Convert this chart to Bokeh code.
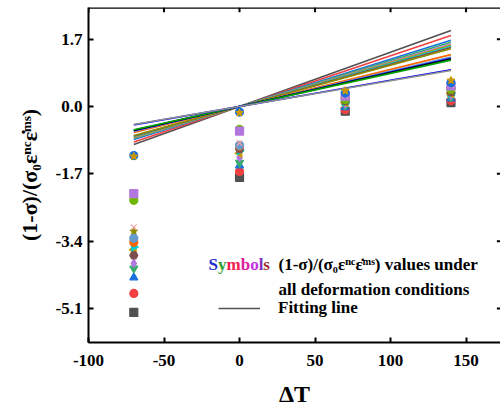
import numpy as np
from bokeh.plotting import figure
from bokeh.models import (ColumnDataSource, FixedTicker, Range1d, Label, Span,
                          PrintfTickFormatter, Legend, LegendItem)
from bokeh.embed import file_html
from bokeh.resources import INLINE

# Temperature differences at which the ratio was evaluated
delta_t = [-70, 0, 70, 140]

# (1-σ)/(σ0 ε^nc ε̇^ms) for every deformation condition, one row per condition
ratio_values = [
    [-5.20, -1.79, -0.12, 0.10],
    [-4.72, -1.64, -0.08, 0.15],
    [-4.32, -1.49, -0.02, 0.20],
    [-4.09, -1.42, 0.02, 0.24],
    [-3.96, -1.29, 0.06, 0.28],
    [-3.62, -1.18, 0.10, 0.32],
    [-3.55, -1.12, 0.12, 0.34],
    [-3.76, -1.08, 0.14, 0.36],
    [-3.15, -1.02, 0.16, 0.40],
    [-3.43, -1.00, 0.20, 0.45],
    [-3.33, -0.98, 0.22, 0.48],
    [-2.37, -0.58, 0.18, 0.44],
    [-2.20, -0.62, 0.26, 0.52],
    [-3.05, -0.92, 0.28, 0.55],
    [-1.24, -0.14, 0.34, 0.60],
    [-1.26, -0.16, 0.40, 0.66],
]

# Slopes of the linear fits through the origin (one per condition)
fit_slopes = [0.01371, 0.01279, 0.01193, 0.01157, 0.01129, 0.01107, 0.01086, 0.01064,
              0.01043, 0.00936, 0.00893, 0.00871, 0.00857, 0.00836, 0.00664, 0.00650]
fit_range = [-70, 140]

marker_colors = ["#515151", "#F14040", "#1A6FDF", "#37AD6B", "#B177DE", "#CC9900",
                 "#00CBCC", "#7D4E4E", "#8E8E00", "#FB6501", "#6699CC", "#6FB802",
                 "#B177DE", "#F7A0A0", "#1A6FDF", "#CC9900"]
marker_types = ["square", "circle", "triangle", "inverted_triangle", "diamond", "triangle",
                "triangle", "hex", "star", "circle", "circle", "circle",
                "square", "x", "circle", "star"]
marker_angles = [0, 0, 0, 0, 0, np.pi / 2, -np.pi / 2, 0, 0, 0, 0, 0, 0, 0, 0, 0]
line_colors = ["#515151", "#F14040", "#1A6FDF", "#37AD6B", "#B177DE", "#CC9900",
               "#00CBCC", "#7D4E4E", "#8E8E00", "#FB6501", "#6699CC", "#0000FF",
               "#000000", "#00A000", "#0000FF", "#909090"]

x_ticks = [-100, -50, 0, 50, 100, 150]
y_ticks = [-5.1, -3.4, -1.7, 0.0, 1.7]
X_END, Y_END = 172.8, 2.5

FONT = "Liberation Serif"

p = figure(width=500, height=414, output_backend="svg", toolbar_location=None,
           x_range=Range1d(-100, X_END), y_range=Range1d(-5.96, Y_END),
           min_border_left=88, min_border_bottom=72, min_border_top=7, min_border_right=0)
p.outline_line_color = None
p.xgrid.visible = False
p.ygrid.visible = False
p.background_fill_color = "white"
p.border_fill_color = "white"

p.axis.axis_line_width = 2
p.axis.major_tick_line_width = 2
p.axis.major_tick_in = 5
p.axis.major_tick_out = 0
p.axis.minor_tick_line_color = None
p.axis.major_label_text_font = FONT
p.axis.major_label_text_font_style = "bold"
p.axis.major_label_text_font_size = "17px"
p.axis.major_label_text_color = "black"
p.axis.axis_label_text_font = FONT
p.axis.axis_label_text_font_style = "bold"
p.axis.axis_label_text_color = "black"

p.xaxis.ticker = FixedTicker(ticks=x_ticks)
p.xaxis.formatter = PrintfTickFormatter(format="%d")
p.yaxis.ticker = FixedTicker(ticks=y_ticks)
p.yaxis.formatter = PrintfTickFormatter(format="%.1f")
p.xaxis.axis_label = "ΔT"
p.xaxis.axis_label_text_font_size = "24px"
p.xaxis.major_label_standoff = 12
p.xaxis.axis_label_standoff = 12
p.yaxis.axis_label = "(1-σ)/(σ₀εⁿᶜε̇ᵐˢ)"
p.yaxis.axis_label_text_font_size = "22px"
p.yaxis.major_label_standoff = 6
p.yaxis.axis_label_standoff = 11

# top edge of the frame and mirrored tick marks on top and right
p.add_layout(Span(location=Y_END, dimension="width", line_color="black", line_width=2.5))
p.segment(x0=x_ticks, y0=[Y_END] * len(x_ticks), x1=x_ticks,
          y1=[Y_END - 0.12] * len(x_ticks), line_color="black", line_width=2)
p.segment(x0=[X_END] * len(y_ticks), y0=y_ticks, x1=[X_END - 2.4] * len(y_ticks),
          y1=y_ticks, line_color="black", line_width=2)

# fitted lines
fit_renderers = []
for k, c in zip(fit_slopes, line_colors):
    xs = np.array(fit_range, dtype=float)
    r = p.line(xs, k * xs, line_color=c, line_width=1.6)
    fit_renderers.append(r)

# measured points
xs, ys, cols, mks, angs = [], [], [], [], []
for vals, c, m, a in zip(ratio_values, marker_colors, marker_types, marker_angles):
    for t, v in zip(delta_t, vals):
        xs.append(t)
        ys.append(v)
        cols.append(c)
        mks.append(m)
        angs.append(a)
src = ColumnDataSource(dict(x=xs, y=ys, color=cols, marker=mks, angle=angs))
p.scatter("x", "y", source=src, marker="marker", size=8, angle="angle",
          fill_color="color", line_color="color", line_width=1.2)

# legend text
symbol_colors = ["#1E2EC8", "#30A030", "#F02050", "#E020A0", "#C030E0", "#8030C0", "#A02828"]
symbol_advance = [0.556, 0.5, 0.833, 0.556, 0.5, 0.278, 0.389]
offset = 0.0
for ch, c, adv in zip("Symbols", symbol_colors, symbol_advance):
    p.add_layout(Label(x=-20.5, y=-3.98, x_offset=offset, text=ch, text_color=c,
                       text_font=FONT, text_font_style="bold", text_font_size="17px",
                       text_baseline="alphabetic"))
    offset += adv * 17

for txt, yy in [("(1-σ)/(σ₀εⁿᶜε̇ᵐˢ) values under", -3.98),
                ("all deformation conditions", -4.63)]:
    p.add_layout(Label(x=25.8, y=yy, text=txt, text_color="black", text_font=FONT,
                       text_font_style="bold", text_font_size="17px",
                       text_baseline="alphabetic"))

legend = Legend(items=[LegendItem(label="Fitting line", renderers=[fit_renderers[0]])],
                location=(130, 24), padding=0, margin=0, glyph_width=42, label_standoff=18,
                border_line_color=None, background_fill_alpha=0,
                label_text_font=FONT, label_text_font_style="bold",
                label_text_color="black", label_text_font_size="17px")
p.add_layout(legend)

open("out.html", "w").write(file_html(p, INLINE))
